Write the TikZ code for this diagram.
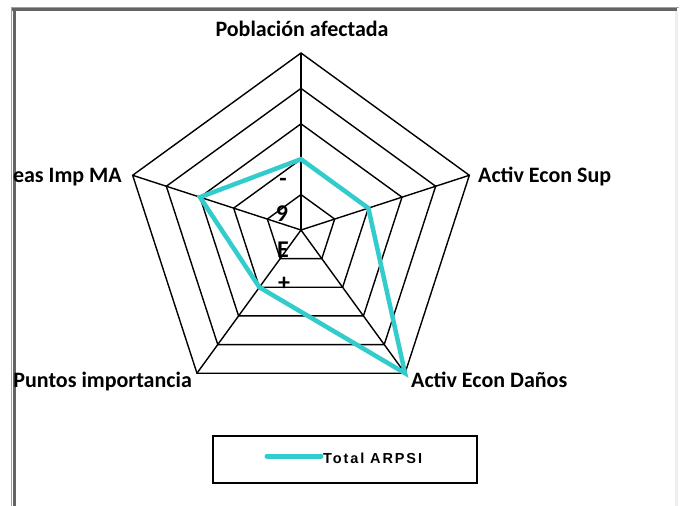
\documentclass[tikz,border=0pt]{standalone}
\usepackage{fontspec}
\setmainfont{Carlito}
\newfontfamily\legendfont[LetterSpace=13]{Liberation Sans}
\usetikzlibrary{positioning}
\definecolor{arpsi}{HTML}{33CCCC}
\definecolor{framedark}{HTML}{646464}
\definecolor{framelight}{HTML}{A0A0A0}
\definecolor{frameside}{HTML}{EEEEEE}
\begin{document}
\begin{tikzpicture}[x=1pt, y=-1pt,
    grid/.style={draw=black, line width=1.4pt, line join=miter},
    series/.style={draw=arpsi, line width=4.5pt, line join=miter},
    axislabel/.style={font=\fontsize{22}{26}\selectfont\bfseries, inner sep=0pt},
    ticklabel/.style={font=\fontsize{24}{28}\selectfont\bfseries, inner sep=0pt},
    legendbox/.style={rectangle, draw=black, line width=1.6pt, minimum width=264pt,
                      minimum height=47pt, inner sep=0pt}]

    % Frame
    \useasboundingbox (0,0) rectangle (683,506);
    \fill[white] (0,0) rectangle (683,506);
    \draw[line width=1pt, framelight] (11,7.5) -- (679,7.5);
    \draw[line width=2.5pt, framedark] (11,9.5) -- (677,9.5);
    \draw[line width=1.5pt, framelight] (11.5,8) -- (11.5,506);
    \draw[line width=3pt, framedark] (14,8) -- (14,506);
    \draw[line width=3pt, frameside] (676.5,11) -- (676.5,506);

    % Centre and spokes
    \coordinate (c) at (301,230);
    \coordinate (poblacion) at ([shift={(90:177pt)}]c);
    \coordinate (econsup) at ([shift={(18:177pt)}]c);
    \coordinate (econdanos) at ([shift={(-54:177pt)}]c);
    \coordinate (puntos) at ([shift={(-126:177pt)}]c);
    \coordinate (areas) at ([shift={(162:177pt)}]c);

    % Rings
    \foreach \r in {1,...,5} {
        \pgfmathsetmacro\rr{\r*35.4}
        \draw[grid, shift={(c)}] (90:\rr pt) -- (18:\rr pt) -- (-54:\rr pt)
            -- (-126:\rr pt) -- (162:\rr pt) -- cycle;
    }
    \foreach \p in {poblacion, econsup, econdanos, puntos, areas}
        \draw[grid] (c) -- (\p);

    % Series
    \draw[series, shift={(c)}] (90:70.8pt) -- (18:70.8pt) -- (-54:177pt)
        -- (-126:70.8pt) -- (162:106.2pt) -- cycle;

    % Axis labels
    \node[axislabel, anchor=base] (lpoblacion) at (302,36) {Población afectada};
    \node[axislabel, anchor=base west] (leconsup) at (478,182) {Activ Econ Sup};
    \node[axislabel, anchor=base west] (leconcdanos) at (411,387) {Activ Econ Daños};
    \node[axislabel, anchor=base east] (lpuntos) at (192,387) {Puntos importancia};
    \node[axislabel, anchor=base east] (lareas) at (122,182) {eas Imp MA};

    % Tick labels
    \node[ticklabel] (tminus) at (283,182) {-};
    \node[ticklabel] (tnine) at (282,214) {9};
    \node[ticklabel] (te) at (283,250) {E};
    \node[ticklabel] (tplus) at (284,284) {+};

    % Legend
    \node[legendbox] (legend) at (345,459.5) {};
    \coordinate (keyl) at (267,456);
    \coordinate (keyr) at (321,456);
    \draw[arpsi, line width=5pt, line cap=round] (keyl) -- (keyr);
    \node[anchor=west, inner sep=0pt, font=\legendfont\fontsize{14.5}{17}\selectfont\bfseries]
        (legendtext) at (323,458) {Total ARPSI};

\end{tikzpicture}
\end{document}
